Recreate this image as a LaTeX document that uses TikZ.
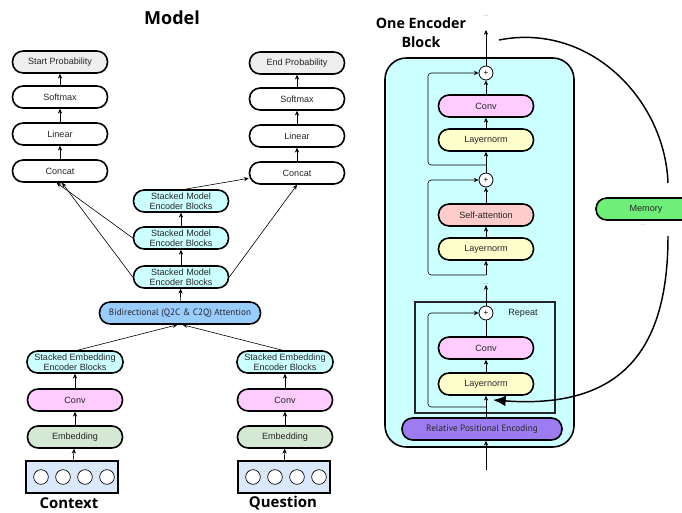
\documentclass[tikz,border=0pt]{standalone}
\usepackage{fontspec}
\setmainfont{Liberation Sans}
\newfontfamily\headfont{Open Sans}
\newfontfamily\myriadish{PT Sans}
\usetikzlibrary{arrows.meta,calc}

\definecolor{probgray}{HTML}{EEEEEE}
\definecolor{encblue}{HTML}{CCFFFF}
\definecolor{attblue}{HTML}{99CCFF}
\definecolor{convpink}{HTML}{FFCCFF}
\definecolor{embgreen}{HTML}{D5E8D4}
\definecolor{inblue}{HTML}{DAE8FC}
\definecolor{normyellow}{HTML}{FFFFCC}
\definecolor{saRed}{HTML}{FFCCCC}
\definecolor{rpePurple}{HTML}{9C7CF0}
\definecolor{memGreen}{HTML}{70EE7A}

\newcommand\boxfont{\fontsize{6.8}{7.5}\selectfont}
\newcommand\widefont{\myriadish\fontsize{6.9}{8}\selectfont}

\begin{document}
\begin{tikzpicture}[x=0.75pt,y=-0.75pt,
  box/.style={draw, line width=1.2pt, rounded corners=8pt,
    minimum width=71.25pt, minimum height=16.5pt, inner sep=1pt,
    align=center, font=\boxfont, text=black!85},
  inbox/.style={draw, line width=1.5pt, fill=inblue,
    minimum width=69pt, minimum height=24pt, inner sep=0pt},
  tok/.style={circle, draw, line width=0.5pt, fill=white,
    minimum size=11pt, inner sep=0pt},
  plus/.style={circle, draw, line width=0.6pt, fill=white,
    minimum size=10.5pt, inner sep=0pt, font=\fontsize{6}{6}\selectfont},
  ar/.style={-{Stealth[length=3.6pt,width=3.2pt]}, line width=0.45pt},
  ln/.style={line width=0.45pt},
  skip/.style={ar, rounded corners=2.5pt},
  title/.style={font=\headfont\bfseries\fontsize{13.5}{14}\selectfont},
  subtitle/.style={font=\headfont\bfseries\fontsize{11.2}{13}\selectfont},
  dots/.style={font=\fontsize{5}{5}\selectfont, text=black!45, inner sep=0pt}]

\useasboundingbox (0,0) rectangle (682,513);

% ---------------- Model ----------------
\node[title] (model) at (172,18) {Model};

% output heads
\node[box, fill=probgray] (sp) at (60,62) {Start Probability};
\node[box] (sm1) at (60,97) {Softmax};
\node[box] (ln1) at (60,134) {Linear};
\node[box] (cc1) at (60,171) {Concat};

\node[box, fill=probgray] (ep) at (297,63) {End Probability};
\node[box] (sm2) at (297,99) {Softmax};
\node[box] (ln2) at (297,136) {Linear};
\node[box] (cc2) at (297,173) {Concat};

\draw[ar] (sm1) -- (sp);
\draw[ar] (ln1) -- (sm1);
\draw[ar] (cc1) -- (ln1);
\draw[ar] (sm2) -- (ep);
\draw[ar] (ln2) -- (sm2);
\draw[ar] (cc2) -- (ln2);

% model encoder stacks
\node[box, fill=encblue] (me3) at (181,201) {Stacked Model\\Encoder Blocks};
\node[box, fill=encblue] (me2) at (181,238) {Stacked Model\\Encoder Blocks};
\node[box, fill=encblue] (me1) at (181,277) {Stacked Model\\Encoder Blocks};
\node[box, fill=attblue, minimum width=120.75pt, font=\widefont]
  (att) at (180,313) {Bidirectional (Q2C \& C2Q) Attention};

\draw[ar] (att) -- (me1);
\draw[ar] (me1) -- (me2);
\draw[ar] (me2) -- (me3);

\draw[ar] (me2.west) -- ([xshift=-2.5pt]cc1.south);
\draw[ar] (me1.west) -- ([xshift=1.5pt]cc1.south);
\draw[ar] ([xshift=3pt]me3.north) -- ([yshift=-4pt]cc2.west);
\draw[ar] (me1.east) -- (cc2.south);

% embedding branches
\node[box, fill=encblue, minimum width=72pt] (se1) at (75,362) {Stacked Embedding\\Encoder Blocks};
\node[box, fill=convpink] (cv1) at (75,400) {Conv};
\node[box, fill=embgreen] (em1) at (75,437) {Embedding};
\node[inbox] (in1) at (72,477) {};
\foreach \i/\dx in {1/-31,2/-9,3/13,4/35}
  \node[tok] (c\i) at ($(in1)+(\dx,0)$) {};
\node[subtitle] (ctx) at (69,503) {Context};

\node[box, fill=encblue, minimum width=72pt] (se2) at (285,362) {Stacked Embedding\\Encoder Blocks};
\node[box, fill=convpink] (cv2) at (285,400) {Conv};
\node[box, fill=embgreen] (em2) at (285,437) {Embedding};
\node[inbox] (in2) at (284,477) {};
\foreach \i/\dx in {1/-31,2/-9,3/13,4/35}
  \node[tok] (q\i) at ($(in2)+(\dx,0)$) {};
\node[subtitle] (qst) at (283,503) {Question};

\draw[ar] (in1) -- (em1);
\draw[ar] (em1) -- (cv1);
\draw[ar] (cv1) -- (se1);
\draw[ar] (in2) -- (em2);
\draw[ar] (em2) -- (cv2);
\draw[ar] (cv2) -- (se2);
\draw[ar] ([xshift=2pt]se1.north) -- ([xshift=-2pt]att.south);
\draw[ar] ([xshift=-2pt]se2.north) -- ([xshift=2pt]att.south);

% ---------------- One Encoder Block ----------------
\node[subtitle, font=\headfont\bfseries\fontsize{10.7}{14.3}\selectfont, align=center]
  (blocktitle) at (421,33) {One Encoder\\Block};

\draw[line width=1.2pt, fill=encblue, rounded corners=16pt] (385,58) rectangle (574,447);
\draw[line width=0.9pt, draw=black!85] (415,302) rectangle (555,413);
\node[font=\boxfont, text=black!85] (rep) at (523,313) {Repeat};

\node[dots] (topdots) at (486,16) {...};
\node[plus] (p1) at (486,73) {+};
\node[box, fill=convpink] (cvA) at (486,106) {Conv};
\node[box, fill=normyellow] (lnA) at (486,140) {Layernorm};
\node[plus] (p2) at (486,180) {+};
\node[box, fill=saRed] (sa) at (486,215) {Self-attention};
\node[box, fill=normyellow] (lnB) at (486,249) {Layernorm};
\node[dots, text=black!60] (middots) at (486,284) {...};
\node[plus] (p3) at (486,313) {+};
\node[box, fill=convpink] (cvC) at (486,348) {Conv};
\node[box, fill=normyellow] (lnC) at (486,384) {Layernorm};
\node[box, fill=rpePurple, minimum width=120pt, font=\widefont]
  (rpe) at (482,429) {Relative Positional Encoding};

\coordinate (topout) at (486,30);
\coordinate (bottomin) at (486,470);
\coordinate (b1) at (486,165);
\coordinate (b2) at (486,275);
\coordinate (b3) at (486,407);

% main data path
\draw[ar] (p1) -- (topout);
\draw[ar] (cvA) -- (p1);
\draw[ar] (lnA) -- (cvA);
\draw[ar] (p2) -- (lnA);
\draw[ar] (sa) -- (p2);
\draw[ar] (lnB) -- (sa);
\draw[ar] (middots.north |- b2) -- (lnB);
\draw[ar] (p3) -- (middots.south);
\draw[ln] (cvC) -- (p3);
\draw[ar] (lnC) -- (cvC);
\draw[ar] (lnC.south |- rpe.north) -- (lnC);
\draw[ar] (bottomin) -- (bottomin |- rpe.south);

% residual connections
\draw[skip] (b1) -- (428,165) |- (p1.west);
\draw[skip] (b2) -- (428,275) |- (p2.west);
\draw[skip] (b3) -- (428,407) |- (p3.west);

% memory loop
\node[box, fill=memGreen, minimum width=75pt] (mem) at (646,209) {Memory};
\node[dots, text=black!30] (memdots) at (643,225) {...};
\coordinate (loopstart) at (499,40);
\coordinate (looptip) at (493,400);
\draw[line width=1.1pt] (loopstart) .. controls (590,22) and (665,100) .. (668,183);
\draw[line width=1.1pt, -{Latex[length=9.5pt,width=8pt]}]
  (668,236) .. controls (668,340) and (630,410) .. (looptip);

\end{tikzpicture}
\end{document}
